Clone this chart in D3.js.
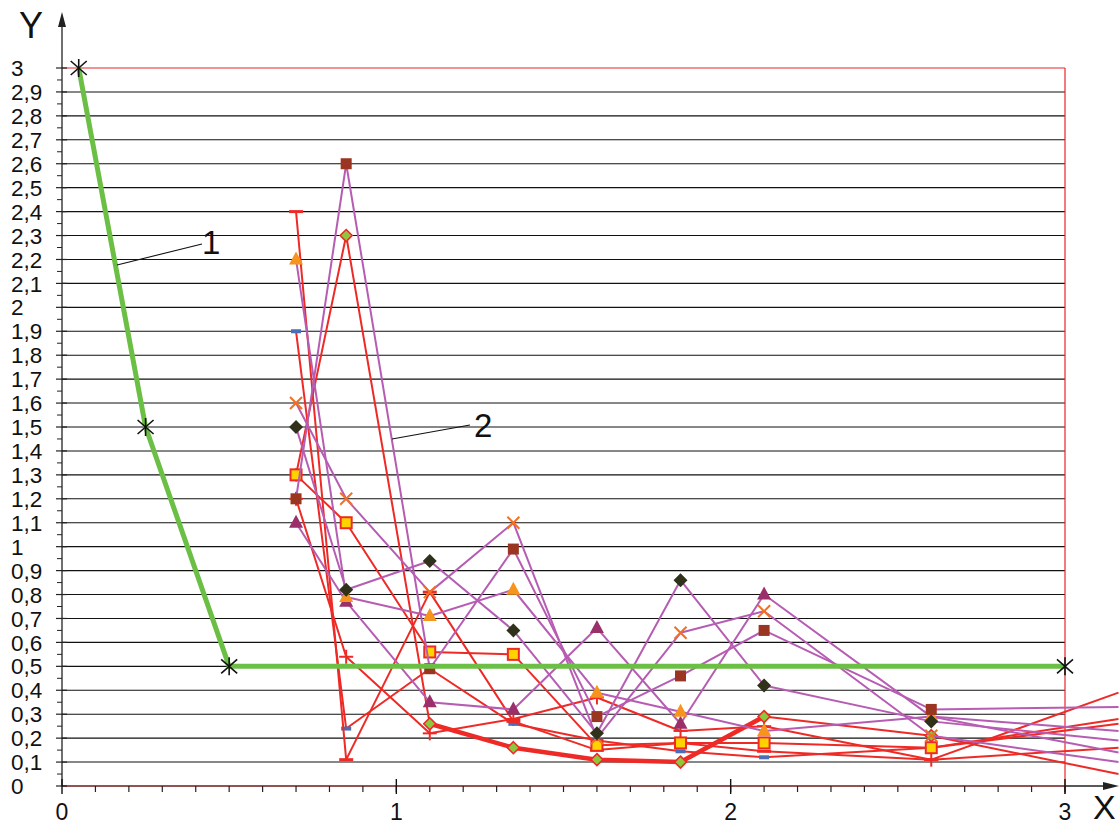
<!DOCTYPE html>
<html>
<head>
<meta charset="utf-8">
<script src="https://cdn.jsdelivr.net/npm/d3@7"></script>
<style>
  html, body { margin: 0; padding: 0; background: #fff; }
  svg { display: block; font-family: Arial, "Liberation Sans", sans-serif; }
</style>
</head>
<body>
<svg id="chart" width="1119" height="825"></svg>
<script>
// ---- data ----
const xTicks = [0, 1, 2, 3];
const yTicks = d3.range(0, 31).map(i => i / 10);
const yTickLabels = yTicks.map(v => v === 0 ? "0" : (Number.isInteger(v) ? String(v) : v.toFixed(1).replace(".", ",")));

// curve 1 (boundary)
const curve1X = [0.05, 0.25, 0.5, 3];
const curve1Y = [3, 1.5, 0.5, 0.5];

// shared abscissas of the measured series (last point has no marker)
const sampleX = [0.7, 0.85, 1.1, 1.35, 1.6, 1.85, 2.1, 2.6, 3.16];

// series drawn with violet lines
const brownSquare    = [1.2, 2.6, 0.49, 0.99, 0.29, 0.46, 0.65, 0.32, 0.33];
const darkDiamond    = [1.5, 0.82, 0.94, 0.65, 0.22, 0.86, 0.42, 0.27, 0.19];
const orangeTriangle = [2.2, 0.79, 0.71, 0.82, 0.39, 0.31, 0.23, 0.29, 0.23];
const purpleTriangle = [1.1, 0.77, 0.35, 0.32, 0.66, 0.26, 0.80, 0.29, 0.14];
const orangeCross    = [1.6, 1.2, 0.81, 1.1, 0.20, 0.64, 0.73, 0.21, 0.10];

// series drawn with red lines
const redPlus      = [1.2, 0.54, 0.22, 0.28, 0.37, 0.23, 0.25, 0.11, 0.39];
const blueDash     = [1.9, 0.24, 0.49, 0.26, 0.19, 0.145, 0.12, 0.16, 0.26];
const redDash      = [2.4, 0.11, 0.81, 0.27, 0.15, 0.18, 0.145, 0.11, 0.16];
const greenDiamond = [1.3, 2.3, 0.26, 0.16, 0.11, 0.10, 0.29, 0.21, 0.05];
const yellowSquare = [1.3, 1.1, 0.56, 0.55, 0.17, 0.18, 0.18, 0.16, 0.28];

// lower envelope, drawn heavy
const lowerEnvelope = [null, null, 0.26, 0.16, 0.11, 0.10, 0.29, null, null];

const VIOLET = "#b65db3";
const RED = "#ee2a26";

const seriesList = [
  { values: redPlus,      line: RED,    marker: "plus" },
  { values: blueDash,     line: RED,    marker: "blueDash" },
  { values: redDash,      line: RED,    marker: "redDash" },
  { values: greenDiamond, line: RED,    marker: "greenDiamond" },
  { values: yellowSquare, line: RED,    marker: "yellowSquare" },
  { values: orangeCross,    line: VIOLET, marker: "cross" },
  { values: purpleTriangle, line: VIOLET, marker: "purpleTriangle" },
  { values: orangeTriangle, line: VIOLET, marker: "orangeTriangle" },
  { values: darkDiamond,    line: VIOLET, marker: "darkDiamond" },
  { values: brownSquare,    line: VIOLET, marker: "brownSquare" }
];

// ---- layout ----
const svg = d3.select("#chart");
const x = d3.scaleLinear().domain([0, 3]).range([62, 1065]);
const y = d3.scaleLinear().domain([0, 3]).range([786, 68]);

// horizontal grid
svg.append("g").selectAll("line").data(yTicks.filter(v => v > 0 && v < 3)).join("line")
  .attr("x1", x(0)).attr("x2", x(3))
  .attr("y1", d => y(d)).attr("y2", d => y(d))
  .attr("stroke", "#111").attr("stroke-width", 1.1);

// plot frame: top and right edges
svg.append("line").attr("x1", x(0)).attr("x2", x(3)).attr("y1", y(3)).attr("y2", y(3))
  .attr("stroke", "#e8262a").attr("stroke-width", 1.2);
svg.append("line").attr("x1", x(3)).attr("x2", x(3)).attr("y1", y(3)).attr("y2", y(0) + 8)
  .attr("stroke", "#e8262a").attr("stroke-width", 1.2);

// y axis with arrow
svg.append("line").attr("x1", x(0)).attr("x2", x(0)).attr("y1", y(0)).attr("y2", 20)
  .attr("stroke", "#222").attr("stroke-width", 1.3);
svg.append("path").attr("d", `M${x(0)},12 L${x(0) - 4},27 L${x(0) + 4},27 Z`).attr("fill", "#222");

// x axis with arrow
svg.append("line").attr("x1", x(0)).attr("x2", x(3)).attr("y1", y(0)).attr("y2", y(0))
  .attr("stroke", "#6e1a1a").attr("stroke-width", 1.3);
svg.append("line").attr("x1", x(3)).attr("x2", 1108).attr("y1", y(0)).attr("y2", y(0))
  .attr("stroke", "#222").attr("stroke-width", 1.3);
svg.append("path").attr("d", `M1119,${y(0)} L1103,${y(0) - 4} L1103,${y(0) + 4} Z`).attr("fill", "#222");

// y ticks (major every 0.1, minor in between)
svg.append("g").selectAll("line").data(yTicks).join("line")
  .attr("x1", x(0) - 6).attr("x2", x(0) + 5)
  .attr("y1", d => y(d)).attr("y2", d => y(d))
  .attr("stroke", "#222").attr("stroke-width", 1.2);
svg.append("g").selectAll("line").data(d3.range(0, 30).map(i => i / 10 + 0.05)).join("line")
  .attr("x1", x(0) - 5).attr("x2", x(0))
  .attr("y1", d => y(d)).attr("y2", d => y(d))
  .attr("stroke", "#222").attr("stroke-width", 1);

// y tick labels
svg.append("g").selectAll("text").data(yTicks).join("text")
  .attr("x", 11).attr("y", d => y(d)).attr("dy", "0.36em")
  .attr("font-size", 22.5).attr("fill", "#111")
  .text((d, i) => yTickLabels[i]);

// x ticks
svg.append("g").selectAll("line").data(d3.range(1, 31).map(i => i / 10)).join("line")
  .attr("x1", d => x(d)).attr("x2", d => x(d))
  .attr("y1", y(0)).attr("y2", y(0) + 6)
  .attr("stroke", "#222").attr("stroke-width", 1.2);
svg.append("g").selectAll("line").data(xTicks).join("line")
  .attr("x1", d => x(d)).attr("x2", d => x(d))
  .attr("y1", y(0) - 7).attr("y2", y(0) + 8)
  .attr("stroke", "#111").attr("stroke-width", 1.4);
svg.append("g").selectAll("text").data(xTicks).join("text")
  .attr("x", d => x(d)).attr("y", 820).attr("text-anchor", "middle")
  .attr("font-size", 23).attr("fill", "#111")
  .text(d => String(d));

// axis names
svg.append("text").attr("x", 31).attr("y", 38).attr("text-anchor", "middle")
  .attr("font-size", 36).attr("fill", "#111").text("Y");
svg.append("text").attr("x", 1093).attr("y", 819)
  .attr("font-size", 34).attr("fill", "#111").text("X");

// ---- measured series ----
const line = d3.line().defined(d => d[1] != null).x(d => x(d[0])).y(d => y(d[1]));

const markerDraw = {
  plus: (g) => {
    g.append("line").attr("x1", -7).attr("x2", 7).attr("stroke", RED).attr("stroke-width", 2);
    g.append("line").attr("y1", -7).attr("y2", 7).attr("stroke", RED).attr("stroke-width", 2);
  },
  blueDash: (g) => g.append("rect").attr("x", -5).attr("y", -2).attr("width", 10).attr("height", 4).attr("fill", "#4a6db5"),
  redDash: (g) => g.append("rect").attr("x", -7).attr("y", -1.5).attr("width", 14).attr("height", 3).attr("fill", RED),
  greenDiamond: (g) => g.append("path").attr("d", "M0,-6L6,0L0,6L-6,0Z").attr("fill", "#8dc63f").attr("stroke", RED).attr("stroke-width", 1.6),
  yellowSquare: (g) => g.append("rect").attr("x", -5.5).attr("y", -5.5).attr("width", 11).attr("height", 11).attr("fill", "#ffd200").attr("stroke", RED).attr("stroke-width", 2),
  cross: (g) => {
    g.append("line").attr("x1", -6).attr("y1", -6).attr("x2", 6).attr("y2", 6).attr("stroke", "#f36f22").attr("stroke-width", 2);
    g.append("line").attr("x1", -6).attr("y1", 6).attr("x2", 6).attr("y2", -6).attr("stroke", "#f36f22").attr("stroke-width", 2);
  },
  purpleTriangle: (g) => g.append("path").attr("d", "M0,-8L7,5L-7,5Z").attr("fill", "#9b2f6a"),
  orangeTriangle: (g) => g.append("path").attr("d", "M0,-8L7,5L-7,5Z").attr("fill", "#f7941d"),
  darkDiamond: (g) => g.append("path").attr("d", "M0,-7L7,0L0,7L-7,0Z").attr("fill", "#30311a"),
  brownSquare: (g) => g.append("rect").attr("x", -5.5).attr("y", -5.5).attr("width", 11).attr("height", 11).attr("fill", "#9a3522")
};

const seriesLayer = svg.append("g");
seriesList.forEach(s => {
  const pts = sampleX.map((xv, i) => [xv, s.values[i]]);
  seriesLayer.append("path").attr("d", line(pts))
    .attr("fill", "none").attr("stroke", s.line).attr("stroke-width", 2)
    .attr("stroke-linejoin", "round");
  if (s.values === greenDiamond) {
    seriesLayer.append("path")
      .attr("d", line(sampleX.map((xv, i) => [xv, lowerEnvelope[i]])))
      .attr("fill", "none").attr("stroke", RED).attr("stroke-width", 4.5)
      .attr("stroke-linejoin", "round");
  }
  pts.slice(0, 8).forEach(p => {
    const g = seriesLayer.append("g").attr("transform", `translate(${x(p[0])},${y(p[1])})`);
    markerDraw[s.marker](g);
  });
});

// ---- curve 1 ----
const c1 = curve1X.map((v, i) => [v, curve1Y[i]]);
svg.append("path").attr("d", line(c1)).attr("fill", "none")
  .attr("stroke", "#6cbf45").attr("stroke-width", 5).attr("stroke-linejoin", "round");
const stars = svg.append("g").selectAll("g").data(c1).join("g")
  .attr("transform", d => `translate(${x(d[0])},${y(d[1])})`);
stars.append("line").attr("x1", -8).attr("y1", -7).attr("x2", 8).attr("y2", 7).attr("stroke", "#111").attr("stroke-width", 1.6);
stars.append("line").attr("x1", -8).attr("y1", 7).attr("x2", 8).attr("y2", -7).attr("stroke", "#111").attr("stroke-width", 1.6);
stars.append("line").attr("x1", 0).attr("y1", -9).attr("x2", 0).attr("y2", 9).attr("stroke", "#111").attr("stroke-width", 1.6);

// ---- callouts ----
svg.append("line").attr("x1", 117).attr("y1", 265).attr("x2", 202).attr("y2", 244)
  .attr("stroke", "#111").attr("stroke-width", 1.1);
svg.append("text").attr("x", 202).attr("y", 254).attr("font-size", 33).attr("fill", "#111").text("1");
svg.append("line").attr("x1", 392).attr("y1", 439).attr("x2", 470).attr("y2", 425)
  .attr("stroke", "#111").attr("stroke-width", 1.1);
svg.append("text").attr("x", 474).attr("y", 437).attr("font-size", 33).attr("fill", "#111").text("2");
</script>
</body>
</html>
